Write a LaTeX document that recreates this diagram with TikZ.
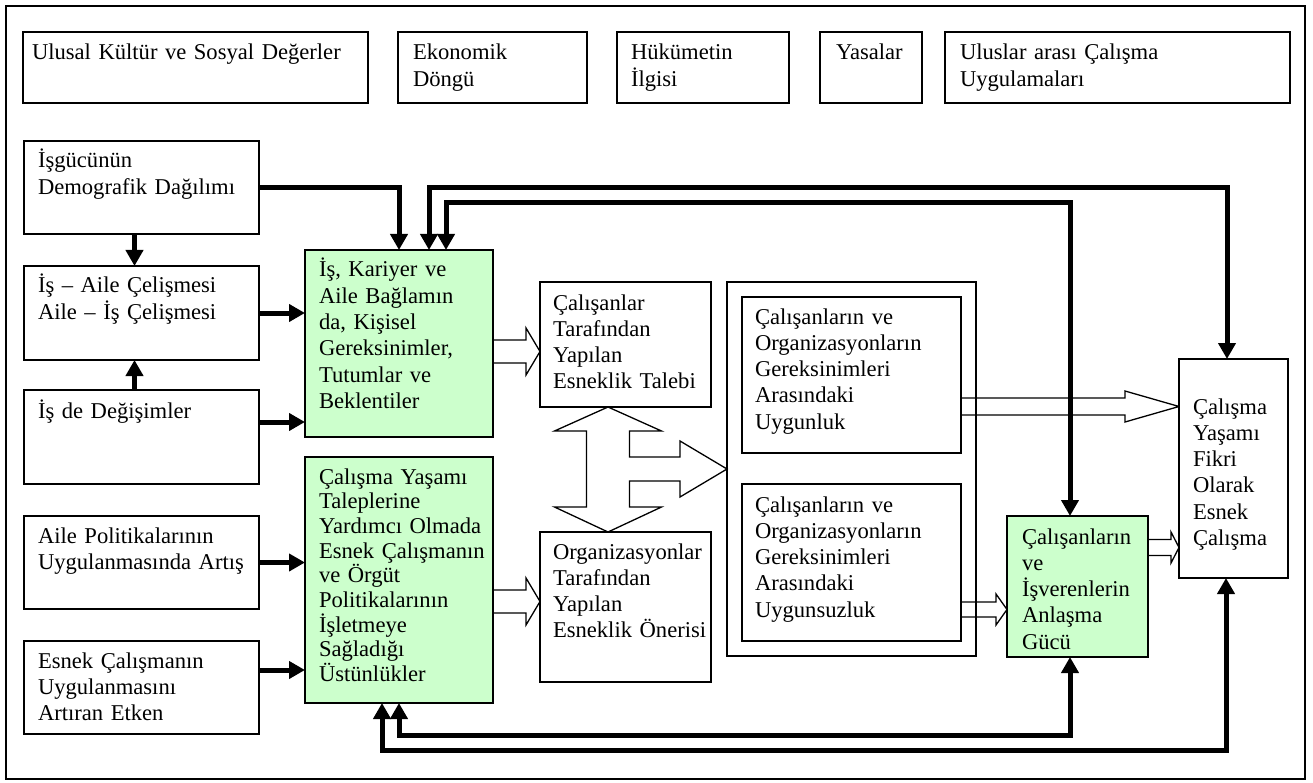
\documentclass[tikz,border=0pt]{standalone}
\usepackage{fontspec}
\setmainfont{Liberation Serif}
\usetikzlibrary{arrows.meta,calc}
\definecolor{lgreen}{RGB}{204,255,204}
\newcommand\dfont{\fontsize{22.6pt}{26.3pt}\selectfont}
\newcommand\dfontt{\fontsize{22.6pt}{24.7pt}\selectfont}
\newcommand\blockarrow[5]{%
  \draw[hollow] let \p1=(#1), \p2=(#2) in
   (\x1,{\y1+#3}) -- ({\x2-#5},{\y1+#3}) -- ({\x2-#5},{\y1+#4}) -- (\x2,\y1)
   -- ({\x2-#5},{\y1-#4}) -- ({\x2-#5},{\y1-#3}) -- (\x1,{\y1-#3}) -- cycle;}
\begin{document}
\begin{tikzpicture}[x=1pt,y=-1pt,
  box/.style={draw=black, line width=1.3pt, fill=white, anchor=north west, inner sep=0pt, outer sep=0pt},
  gbox/.style={box, fill=lgreen},
  txt/.style={anchor=base west, inner sep=0pt, outer sep=0pt, align=left, font=\dfont},
  conn/.style={line width=5pt, -{Triangle[length=16pt,width=17pt]}},
  bconn/.style={line width=5pt, {Triangle[length=16pt,width=17pt]}-{Triangle[length=16pt,width=17pt]}},
  hollow/.style={draw=black, line width=1.3pt, fill=white, line join=miter},
]
\useasboundingbox (0,0) rectangle (1313,783);
\node[box, minimum width=1299pt, minimum height=773pt] (frame) at (6,6) {};

% ---- box geometry (drawn later) ----
\path
 node[box, draw=none, fill=none, minimum width=345pt, minimum height=71pt] (ulusal) at (23,32) {}
 node[box, draw=none, fill=none, minimum width=189pt, minimum height=71pt] (ekonomik) at (398,32) {}
 node[box, draw=none, fill=none, minimum width=172pt, minimum height=71pt] (hukumet) at (617,32) {}
 node[box, draw=none, fill=none, minimum width=102pt, minimum height=71pt] (yasalar) at (820,32) {}
 node[box, draw=none, fill=none, minimum width=345pt, minimum height=71pt] (uluslar) at (945,32) {}
 node[box, draw=none, fill=none, minimum width=235pt, minimum height=93pt] (isgucu) at (24,141) {}
 node[box, draw=none, fill=none, minimum width=235pt, minimum height=94pt] (isaile) at (24,266) {}
 node[box, draw=none, fill=none, minimum width=235pt, minimum height=94pt] (isde) at (24,390) {}
 node[box, draw=none, fill=none, minimum width=235pt, minimum height=93pt] (ailepol) at (24,516) {}
 node[box, draw=none, fill=none, minimum width=235pt, minimum height=93pt] (esnek) at (24,641) {}
 node[box, draw=none, fill=none, minimum width=188pt, minimum height=187pt] (green1) at (305,250) {}
 node[box, draw=none, fill=none, minimum width=188pt, minimum height=246pt] (green2) at (305,457) {}
 node[box, draw=none, fill=none, minimum width=171pt, minimum height=125pt] (talebi) at (540,282) {}
 node[box, draw=none, fill=none, minimum width=171pt, minimum height=150pt] (oneri) at (540,532) {}
 node[box, draw=none, fill=none, minimum width=249pt, minimum height=374pt] (kap) at (727,282) {}
 node[box, draw=none, fill=none, minimum width=219pt, minimum height=156pt] (uygun) at (742,297) {}
 node[box, draw=none, fill=none, minimum width=219pt, minimum height=157pt] (uygunsuz) at (742,484) {}
 node[box, draw=none, fill=none, minimum width=141pt, minimum height=141pt] (anlasma) at (1007,516) {}
 node[box, draw=none, fill=none, minimum width=109pt, minimum height=219pt] (fikri) at (1179,359) {};

% ---- hollow block arrows ----
\coordinate (a1) at ([yshift=-8pt]green1.east);
\coordinate (a2) at (a1 -| talebi.west);
\blockarrow{a1}{a2}{11.5pt}{23.5pt}{14pt}
\coordinate (b1) at ([yshift=-21.5pt]green2.east);
\coordinate (b2) at (b1 -| oneri.west);
\blockarrow{b1}{b2}{11.5pt}{23.5pt}{14pt}
\coordinate (c1) at ([yshift=-31.5pt]uygun.east);
\coordinate (c2) at (c1 -| fikri.west);
\blockarrow{c1}{c2}{8.5pt}{15.5pt}{54pt}
\coordinate (d1) at ([yshift=-47pt]uygunsuz.east);
\coordinate (d2) at (d1 -| anlasma.west);
\blockarrow{d1}{d2}{7.5pt}{15.5pt}{11pt}
\coordinate (e1) at ([yshift=39pt]anlasma.east);
\coordinate (e2) at (e1 -| fikri.west);
\blockarrow{e1}{e2}{8pt}{15.5pt}{8pt}
\coordinate (ft) at ([xshift=-17.5pt]talebi.south);
\draw[hollow, shift={(ft)}] (0,0) -- (53.5,24) -- (21.5,24) -- (21.5,50) -- (72,50) -- (72,34)
  -- (119,62) -- (72,90) -- (72,74) -- (21.5,74) -- (21.5,100) -- (53.5,100) -- (0,125)
  -- (-53.5,100) -- (-21.5,100) -- (-21.5,24) -- (-53.5,24) -- cycle;

% ---- boxes ----
\node[box, minimum width=345pt, minimum height=71pt] at (23,32) {};
\node[box, minimum width=189pt, minimum height=71pt] at (398,32) {};
\node[box, minimum width=172pt, minimum height=71pt] at (617,32) {};
\node[box, minimum width=102pt, minimum height=71pt] at (820,32) {};
\node[box, minimum width=345pt, minimum height=71pt] at (945,32) {};
\node[box, minimum width=235pt, minimum height=93pt] at (24,141) {};
\node[box, minimum width=235pt, minimum height=94pt] at (24,266) {};
\node[box, minimum width=235pt, minimum height=94pt] at (24,390) {};
\node[box, minimum width=235pt, minimum height=93pt] at (24,516) {};
\node[box, minimum width=235pt, minimum height=93pt] at (24,641) {};
\node[gbox, minimum width=188pt, minimum height=187pt] at (305,250) {};
\node[gbox, minimum width=188pt, minimum height=246pt] at (305,457) {};
\node[box, minimum width=171pt, minimum height=125pt] at (540,282) {};
\node[box, minimum width=171pt, minimum height=150pt] at (540,532) {};
\node[box, fill=none, minimum width=249pt, minimum height=374pt] at (727,282) {};
\node[box, minimum width=219pt, minimum height=156pt] at (742,297) {};
\node[box, minimum width=219pt, minimum height=157pt] at (742,484) {};
\node[gbox, minimum width=141pt, minimum height=141pt] at (1007,516) {};
\node[box, minimum width=109pt, minimum height=219pt] at (1179,359) {};

% ---- texts ----
\node[txt, text width=334pt] at ($(ulusal.north west)+(9,28)$) {Ulusal Kültür ve Sosyal Değerler};
\node[txt, text width=170pt] at ($(ekonomik.north west)+(15,28)$) {Ekonomik\\Döngü};
\node[txt, text width=155pt] at ($(hukumet.north west)+(14,28)$) {Hükümetin\\İlgisi};
\node[txt, text width=84pt] at ($(yasalar.north west)+(16,28)$) {Yasalar};
\node[txt, text width=328pt] at ($(uluslar.north west)+(15,28)$) {Uluslar arası Çalışma\\Uygulamaları};
\node[txt, text width=219pt] at ($(isgucu.north west)+(14,27)$) {İşgücünün\\Demografik Dağılımı};
\node[txt, text width=219pt] at ($(isaile.north west)+(14,27)$) {İş – Aile Çelişmesi\\Aile – İş Çelişmesi};
\node[txt, text width=219pt] at ($(isde.north west)+(14,28)$) {İş de Değişimler};
\node[txt, text width=219pt] at ($(ailepol.north west)+(14,27)$) {Aile Politikalarının\\Uygulanmasında Artış};
\node[txt, text width=219pt] at ($(esnek.north west)+(14,27)$) {Esnek Çalışmanın\\Uygulanmasını\\Artıran Etken};
\node[txt, text width=172pt] at ($(green1.north west)+(14,27)$) {İş, Kariyer ve\\Aile Bağlamın\\da, Kişisel\\Gereksinimler,\\Tutumlar ve\\Beklentiler};
\node[txt, font=\dfontt, text width=172pt] at ($(green2.north west)+(14,27)$) {Çalışma Yaşamı\\Taleplerine\\Yardımcı Olmada\\Esnek Çalışmanın\\ve Örgüt\\Politikalarının\\İşletmeye\\Sağladığı\\Üstünlükler};
\node[txt, text width=156pt] at ($(talebi.north west)+(13,28)$) {Çalışanlar\\Tarafından\\Yapılan\\Esneklik Talebi};
\node[txt, text width=156pt] at ($(oneri.north west)+(13,27)$) {Organizasyonlar\\Tarafından\\Yapılan\\Esneklik Önerisi};
\node[txt, text width=204pt] at ($(uygun.north west)+(13,27)$) {Çalışanların ve\\Organizasyonların\\Gereksinimleri\\Arasındaki\\Uygunluk};
\node[txt, text width=204pt] at ($(uygunsuz.north west)+(13,28)$) {Çalışanların ve\\Organizasyonların\\Gereksinimleri\\Arasındaki\\Uygunsuzluk};
\node[txt, text width=124pt] at ($(anlasma.north west)+(15,28)$) {Çalışanların\\ve\\İşverenlerin\\Anlaşma\\Gücü};
\node[txt, text width=94pt] at ($(fikri.north west)+(14,55)$) {Çalışma\\Yaşamı\\Fikri\\Olarak\\Esnek\\Çalışma};

% ---- thick connectors ----
\draw[conn] (isgucu.east) -| ([xshift=94pt]green1.north west);
\draw[conn] ([xshift=-7pt]isgucu.south) -- ([xshift=-7pt]isaile.north);
\draw[conn] ([xshift=-7pt]isde.north) -- ([xshift=-7pt]isaile.south);
\draw[conn] (isaile.east) -- (isaile.east -| green1.west);
\coordinate (p1) at ([yshift=15pt]isde.east);
\draw[conn] (p1) -- (p1 -| green1.west);
\draw[conn] (ailepol.east) -- (ailepol.east -| green2.west);
\coordinate (p2) at ([yshift=17.5pt]esnek.east);
\draw[conn] (p2) -- (p2 -| green2.west);
\draw[bconn] ([xshift=124pt]green1.north west) -- ++(0,-62) -| ([xshift=-6.5pt]fikri.north);
\draw[bconn] ([xshift=141pt]green1.north west) -- ++(0,-47) -| ([xshift=-7.5pt]anlasma.north);
\draw[bconn] ([xshift=94pt]green2.south west) -- ++(0,32) -| ([xshift=-7.5pt]anlasma.south);
\draw[bconn] ([xshift=77pt]green2.south west) -- ++(0,47) -| ([xshift=-7.5pt]fikri.south);
\end{tikzpicture}
\end{document}
